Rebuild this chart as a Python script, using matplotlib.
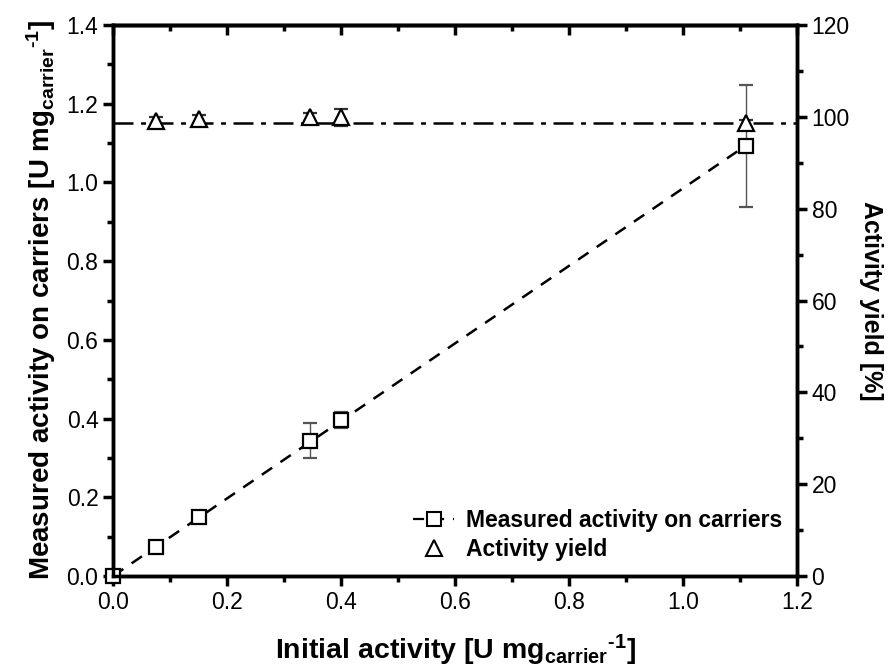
import matplotlib
matplotlib.use("Agg")
import matplotlib.pyplot as plt
from matplotlib.ticker import MultipleLocator, FormatStrFormatter, NullFormatter
from matplotlib.lines import Line2D

plt.rcParams['font.family'] = ['Liberation Sans', 'DejaVu Sans']
plt.rcParams['mathtext.fontset'] = 'custom'
plt.rcParams['mathtext.bf'] = 'Liberation Sans:bold'
plt.rcParams['mathtext.rm'] = 'Liberation Sans:bold'
plt.rcParams['mathtext.it'] = 'Liberation Sans:bold'

initial = [0.0, 0.075, 0.15, 0.345, 0.40, 1.11]
measured = [0.0, 0.073, 0.149, 0.344, 0.397, 1.092]
measured_err = [0.0, 0.012, 0.004, 0.045, 0.02, 0.155]

yield_x = [0.075, 0.15, 0.345, 0.40, 1.11]
yield_vals = [99.0, 99.5, 99.9, 99.9, 98.6]
yield_err = [1.0, 0.8, 1.0, 1.8, 0.8]

fit_slope = 0.985
fit_x = [0.0, 1.11]
mean_yield = 98.7

unit = r'[U mg$_{\mathbf{carrier}}$$^{\mathbf{' + '\u2010' + r'1}}$]'

fig = plt.figure(figsize=(8.92, 6.69), dpi=100)
ax = fig.add_axes([113/892, 1-576/669, (797-113)/892, (576-25)/669])
ax2 = ax.twinx()

ax.plot(fit_x, [fit_slope*v for v in fit_x], ls=(0, (5, 4)), color='black', lw=1.8, zorder=2)
ax.errorbar(initial, measured, yerr=measured_err, fmt='s', mfc='white', mec='black',
            mew=1.6, ms=10, ecolor='#555555', elinewidth=1, capsize=5, zorder=3, clip_on=False)
ax2.axhline(mean_yield, ls=(0, (8, 3, 2, 3)), color='black', lw=1.8, zorder=2)
ax2.errorbar(yield_x, yield_vals, yerr=yield_err, fmt='^', mfc='white', mec='black',
             mew=1.6, ms=11, ecolor='#333333', elinewidth=1, capsize=5, zorder=3)

ax.set_xlim(0, 1.2)
ax.set_ylim(0, 1.4)
ax2.set_ylim(0, 120)

ax.xaxis.set_major_locator(MultipleLocator(0.2))
ax.xaxis.set_minor_locator(MultipleLocator(0.1))
ax.yaxis.set_major_locator(MultipleLocator(0.2))
ax.yaxis.set_minor_locator(MultipleLocator(0.1))
ax2.yaxis.set_major_locator(MultipleLocator(20))
ax2.yaxis.set_minor_locator(MultipleLocator(10))
ax.xaxis.set_major_formatter(FormatStrFormatter('%.1f'))
ax.yaxis.set_major_formatter(FormatStrFormatter('%.1f'))

for a in (ax, ax2):
    for s in a.spines.values():
        s.set_linewidth(2.5)

for a, axis in ((ax, 'x'), (ax, 'y'), (ax2, 'y')):
    a.tick_params(axis=axis, which='both', direction='out', labelsize=16.5, width=2.5)
    a.tick_params(axis=axis, which='major', length=7)
    a.tick_params(axis=axis, which='minor', length=4)

top = ax.secondary_xaxis('top')
top.xaxis.set_major_locator(MultipleLocator(0.2))
top.xaxis.set_minor_locator(MultipleLocator(0.1))
top.xaxis.set_major_formatter(NullFormatter())
top.tick_params(which='both', direction='in', width=2.5)
top.tick_params(which='major', length=7)
top.tick_params(which='minor', length=4)
top.spines['top'].set_linewidth(2.5)

ax.set_xlabel('Initial activity ' + unit, fontsize=20.5, fontweight='bold', labelpad=14)
ax.set_ylabel('Measured activity on carriers ' + unit, fontsize=20, fontweight='bold', labelpad=6)
ax2.set_ylabel('Activity yield [%]', fontsize=18, fontweight='bold', rotation=270, labelpad=24)

h1 = Line2D([], [], ls=(0, (5, 4)), color='black', lw=1.6, marker='s', mfc='white',
            mec='black', mew=1.5, ms=10)
h2 = Line2D([], [], ls='none', marker='^', mfc='white', mec='black', mew=1.5, ms=11)
ax.legend([h1, h2], ['Measured activity on carriers', 'Activity yield'], loc='lower right',
          frameon=False, prop={'weight': 'bold', 'size': 16.5}, handlelength=1.8,
          handletextpad=0.5, borderaxespad=0.25, labelspacing=0.25)

fig.savefig('out.png', dpi=100)
